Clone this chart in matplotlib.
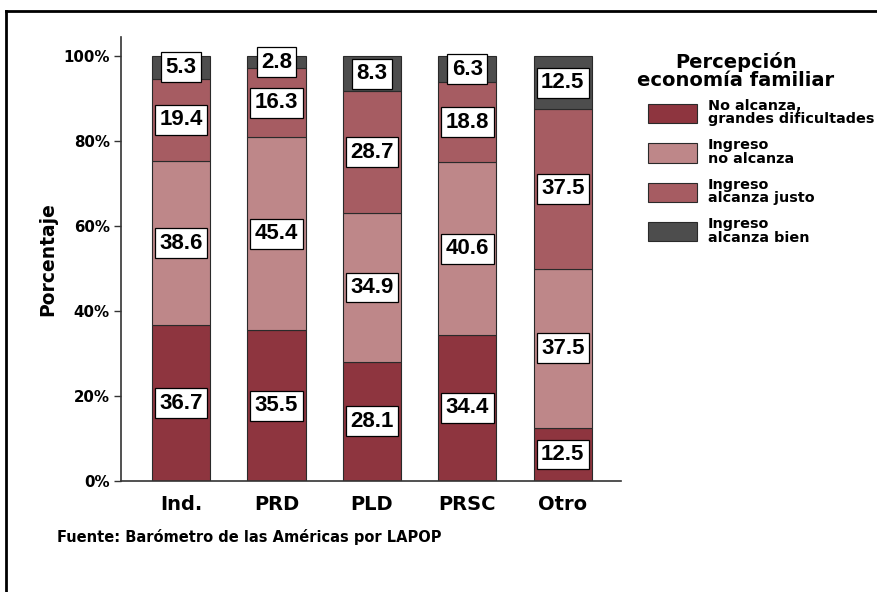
import matplotlib
matplotlib.use("Agg")
import matplotlib.pyplot as plt
from matplotlib.lines import Line2D
from matplotlib.patches import Patch
import numpy as np

plt.rcParams['font.family'] = ['DejaVu Sans']
plt.rcParams['font.weight'] = 'bold'

categories = ["Ind.", "PRD", "PLD", "PRSC", "Otro"]
series_names = ["No alcanza,\ngrandes dificultades", "Ingreso\nno alcanza",
                "Ingreso\nalcanza justo", "Ingreso\nalcanza bien"]
no_alcanza_grandes = [36.7, 35.5, 28.1, 34.4, 12.5]
no_alcanza = [38.6, 45.4, 34.9, 40.6, 37.5]
alcanza_justo = [19.4, 16.3, 28.7, 18.8, 37.5]
alcanza_bien = [5.3, 2.8, 8.3, 6.3, 12.5]
series = [no_alcanza_grandes, no_alcanza, alcanza_justo, alcanza_bien]
colors = ["#8E353F", "#BE8789", "#A65C62", "#4D4D4D"]
yticks = [0, 20, 40, 60, 80, 100]
ytick_labels = ["0%", "20%", "40%", "60%", "80%", "100%"]

fig = plt.figure(figsize=(8.78, 5.92), dpi=100)
ax = fig.add_axes([121/878, 1-481/592, (621-121)/878, (481-37)/592])

x = np.arange(len(categories))
bottom = np.zeros(len(categories))
handles = []
for vals, col in zip(series, colors):
    vals = np.array(vals)
    ax.bar(x, vals, bottom=bottom, width=0.61, color=col,
           edgecolor="#2a2a2a", linewidth=0.8, zorder=2)
    handles.append(Patch(facecolor=col, edgecolor="#2a2a2a", linewidth=0.8))
    for xi, b, v in zip(x, bottom, vals):
        ax.text(xi, b + v/2, f"{v:.1f}", ha="center", va="center",
                fontsize=16, fontweight="bold", family="Liberation Sans",
                color="black", zorder=5,
                bbox=dict(boxstyle="square,pad=0.2", fc="white", ec="black", lw=0.9))
    bottom = bottom + vals

ax.set_xlim(-0.63, 4.61)
ax.set_ylim(0, 104.5)
ax.set_yticks(yticks)
ax.set_yticklabels(ytick_labels, fontsize=10.8, fontweight="bold")
ax.set_xticks(x)
ax.set_xticklabels(categories, fontsize=14, fontweight="bold")
ax.tick_params(axis="x", length=0, pad=10)
ax.tick_params(axis="y", length=5, width=1, color="#333333", pad=3)
for s in ["top", "right"]:
    ax.spines[s].set_visible(False)
for s in ["left", "bottom"]:
    ax.spines[s].set_color("#333333")
    ax.spines[s].set_linewidth(1.2)
ax.set_ylabel("Porcentaje", fontsize=13.5, fontweight="bold", labelpad=4.5)

fig.text(736/878, 1-71/592, "Percepción\neconomía familiar", ha="center",
         va="center", multialignment="center", fontsize=14,
         fontweight="bold", linespacing=0.95)

leg = fig.legend(handles, series_names, loc="upper left",
                 bbox_to_anchor=(648/878, 1-99/592), frameon=False,
                 prop={"size": 10.4, "weight": "bold"},
                 handlelength=3.4, handleheight=1.67, handletextpad=0.75,
                 labelspacing=0.83, borderaxespad=0, borderpad=0)
for t in leg.get_texts():
    t.set_linespacing(0.95)

fig.text(57/878, 1-537/592, "Fuente: Barómetro de las Américas por LAPOP",
         fontsize=10.5, fontweight="bold", va="center", ha="left")

fig.add_artist(Line2D([6/878, 1.0], [1-11/592, 1-11/592], color="black", lw=2,
                      transform=fig.transFigure))
fig.add_artist(Line2D([6/878, 6/878], [0, 1-11/592], color="black", lw=2,
                      transform=fig.transFigure))

fig.savefig("out.png", dpi=100)
